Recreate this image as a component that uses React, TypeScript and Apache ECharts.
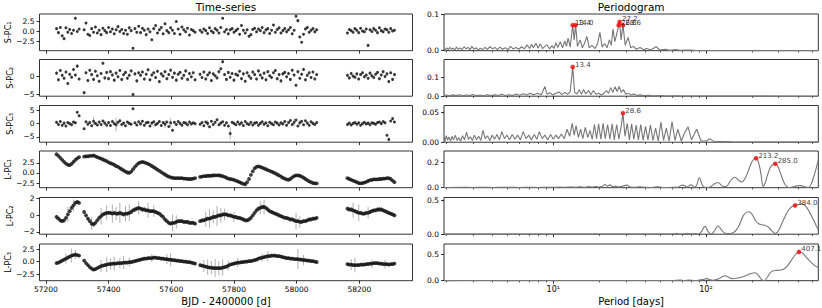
import React, { useEffect, useRef } from "react";
import * as echarts from "echarts";

const FONT = "DejaVu Sans, Verdana, sans-serif";

// ---------------- time-series data ----------------
const times = [
  57234, 57240, 57246, 57252, 57258, 57264, 57270, 57276, 57282, 57288, 57294, 57300, 57306,
  57322, 57328, 57334, 57340, 57346, 57352, 57358, 57364, 57370, 57376, 57382, 57388, 57394,
  57400, 57406, 57412, 57418, 57424, 57430, 57436, 57442, 57448, 57454, 57460, 57466, 57472, 57478, 57484, 57490, 57496,
  57502, 57508, 57514, 57520, 57526, 57532, 57538, 57544, 57550, 57556, 57562, 57568, 57574, 57580, 57586, 57592, 57598,
  57604, 57610, 57616, 57622, 57628, 57634, 57640, 57646, 57652, 57658, 57664, 57670, 57676,
  57692, 57698, 57704, 57710, 57716, 57722, 57728, 57734, 57740, 57746,
  57752, 57758, 57764, 57770, 57776, 57782, 57788, 57794, 57800, 57806,
  57812, 57818, 57824, 57830, 57836, 57842, 57848, 57854, 57860, 57866,
  57872, 57878, 57884, 57890, 57896, 57902, 57908, 57914, 57920, 57926,
  57932, 57938, 57944, 57950, 57956, 57962, 57968, 57974, 57980, 57986,
  57992, 57998, 58004, 58010, 58016, 58022, 58028, 58034, 58040, 58046,
  58052, 58058, 58064,
  58162, 58168, 58174, 58180, 58186, 58192, 58198, 58204, 58210, 58216, 58222, 58228, 58234,
  58240, 58246, 58252, 58258, 58264, 58270, 58276, 58282, 58288, 58294, 58300, 58306, 58312,
];

const sPC1 = [
  0.6, -0.4, 0.9, -1.2, -1.9, 0.8, -0.3, 0.4, -0.6, 0.2, 3.2, -0.1, 0.5,
  0.3, 2.0, -0.8, -1.1, 0.6, -0.3, 1.0, -0.5, 0.2, -0.9, 0.7, 0.1, -0.4,
  0.9, -0.2, 0.5, -0.7, 0.3, 1.1, -0.1, 0.4, -0.6, 0.2, -0.8, 0.8, 0.1, -4.3, 0.6, -0.3, 1.2,
  -0.4, 0.7, 0.2, -0.9, 0.5, -0.2, -2.2, 0.6, 1.4, -0.5, 0.3, 0.9, -0.7, 1.8, 0.1, -0.4, 0.8,
  0.2, -0.6, 2.4, 0.5, -0.8, 1.0, 0.3, -0.2, 0.7, -1.0, 0.4, 0.1, -0.3,
  0.2, -0.3, 0.5, 0.1, -0.6, 0.8, 0.0, -0.4, 0.6, 0.2,
  -0.5, 0.9, 3.2, -0.2, 0.4, -0.7, 0.3, 0.6, -0.3, 0.1,
  0.5, -0.8, 1.4, 0.2, -0.5, 0.3, -1.3, -0.9, 0.4, 0.7,
  -0.2, 0.5, 0.1, 0.9, -0.4, 0.3, 0.6, -0.6, 0.2, 1.5,
  -0.3, 0.4, 0.8, -0.5, 0.1, 0.6, -0.2, 0.3, 0.9, -0.7,
  0.2, 3.7, 2.6, -1.5, -2.8, -0.8, 0.5, 0.9, -0.3, 0.2,
  0.6, -0.2, 0.3,
  -0.5, 0.4, 0.1, -0.3, 0.6, 0.2, -0.4, 0.7, 0.0, -0.2, 0.5, -3.6, 0.3,
  -0.1, 0.6, 0.2, -0.4, 0.8, 0.1, -0.2, 0.5, 0.3, -0.3, 0.6, 0.0, 0.2,
];

const sPC2 = [
  0.8, -1.0, 1.5, 0.2, -0.6, 1.1, -2.0, 0.5, -0.3, 1.8, 0.3, 2.7, -0.8,
  -4.5, 0.9, -1.2, 1.6, 0.4, -0.9, 1.3, 0.1, -1.4, 0.7, 3.5, -0.5, 1.0,
  -0.7, 1.2, 0.3, -1.1, 0.8, -0.2, 1.5, -0.9, 0.4, 1.0, -0.6, 0.2, 1.4, -5.0, 0.6, -1.3, 0.9,
  0.2, 1.1, -0.8, 0.5, 1.7, -1.0, 0.3, 0.9, -0.4, 1.3, -1.5, 0.6, 0.0, 1.2, -0.7, 0.4, 1.6,
  -0.3, 0.8, -1.1, 0.5, 1.0, -0.6, 0.2, 1.4, -0.9, 0.7, -0.2, 0.9, -1.0,
  0.5, -0.4, 1.1, -0.8, 0.3, 0.9, -1.2, 0.6, 0.1, -0.5,
  1.2, 2.0, 3.9, 0.4, -0.9, 1.0, -0.3, 0.7, -1.1, 0.5,
  0.2, 1.3, -0.7, 0.6, -1.4, 0.9, 0.0, -0.6, 1.1, 0.4,
  -0.8, 1.4, 0.3, -0.5, 0.8, -1.0, 1.2, 0.1, -0.4, 0.9,
  1.5, -0.7, 0.4, -1.3, 0.6, 1.0, -0.2, 0.7, -0.9, 1.6,
  0.3, -2.5, 1.2, -0.6, 0.5, 1.8, -1.0, 0.2, 0.9, -0.4,
  1.1, -0.8, 0.4,
  0.2, -0.5, 0.7, 0.0, -0.3, 0.6, -0.8, 0.4, 0.9, -0.2, 0.3, -0.6, 0.8,
  0.1, -0.4, 0.5, 1.0, -0.7, 0.3, 1.2, -0.1, 0.6, -1.5, 0.9, -0.9, 0.4,
];

const sPC3 = [
  0.5, -0.3, 0.8, -0.6, 0.2, -0.9, 0.4, 0.0, -0.4, 0.6, 0.3, 4.3, 3.0,
  -1.9, 0.7, -0.2, 0.4, -0.8, 0.9, 0.1, -0.5, 0.6, -0.3, 1.0, 0.2, -0.6,
  0.4, -0.7, 0.8, 0.0, -0.4, 0.5, 1.1, -0.3, 0.2, -0.8, 0.6, 0.1, -0.2, 5.6, 0.3, -0.5, 0.7,
  -0.1, 0.9, -0.6, 0.3, 0.5, -0.9, 0.2, 0.7, -0.4, 0.1, 0.8, -0.7, 0.4, -0.2, 0.6, -1.1, 0.3,
  -2.5, 0.5, -0.3, 0.8, 0.1, -0.6, 0.4, 0.2, -0.4, 0.6, -0.1, 0.3, 0.0,
  -0.2, 0.4, -0.8, 0.6, 0.1, -1.2, 0.9, -0.3, 0.5, 1.5,
  -0.4, 0.2, 0.7, -0.6, 0.3, -0.9, -3.7, 0.5, 0.1, -0.4,
  0.6, -0.2, 0.3, -0.7, 0.8, 0.0, -0.3, 0.5, -0.5, 0.2,
  0.4, -0.6, 0.1, 0.7, -0.2, 0.3, -0.8, 0.5, 0.0, -0.4,
  0.6, 0.2, -0.5, 0.3, -0.1, 0.8, -0.6, 0.4, 1.2, -0.3,
  0.5, 1.4, -0.9, 0.3, 0.9, -0.4, 1.1, 0.2, -0.6, 0.7,
  0.1, -0.3, 0.4,
  -0.3, 0.2, -0.5, 0.1, 0.4, -0.2, 0.3, -0.6, 0.0, 0.5, -0.1, 0.2, -0.4,
  0.3, 0.1, -0.2, 0.4, 0.6, 0.0, 0.8, 0.3, -4.4, -6.0, 1.0, 1.9, 0.6,
];

const lPC1 = [
  4.6, 4.2, 3.7, 3.2, 2.7, 2.3, 2.0, 1.9, 2.2, 2.7, 3.2, 3.6, 3.9,
  4.0, 4.1, 4.1, 4.2, 4.2, 4.3, 4.1, 3.9, 3.7, 3.5, 3.3, 3.1, 2.9,
  2.6, 2.4, 2.2, 2.0, 1.7, 1.5, 1.2, 0.9, 0.6, 0.3, 0.1, 0.0, 0.3, 0.9, 1.5, 2.0, 2.4,
  2.6, 2.7, 2.6, 2.4, 2.2, 2.0, 1.7, 1.4, 1.1, 0.8, 0.5, 0.2, -0.1, -0.4, -0.7, -0.9, -1.1,
  -1.2, -1.3, -1.3, -1.3, -1.3, -1.3, -1.4, -1.4, -1.5, -1.5, -1.5, -1.4, -1.3,
  -1.0, -0.9, -0.8, -0.8, -0.7, -0.7, -0.7, -0.6, -0.6, -0.6,
  -0.6, -0.7, -0.8, -1.0, -1.2, -1.4, -1.5, -1.6, -1.7, -1.9,
  -2.1, -2.3, -2.5, -2.7, -2.8, -2.3, -1.5, -0.5, 0.4, 1.1,
  1.5, 1.6, 1.5, 1.3, 1.1, 0.9, 0.7, 0.5, 0.3, 0.1,
  -0.1, -0.4, -0.6, -0.9, -1.2, -1.4, -1.6, -1.7, -1.5, -1.1,
  -0.8, -0.6, -0.6, -0.7, -0.9, -1.2, -1.5, -1.8, -2.1, -2.3,
  -2.5, -2.6, -2.6,
  -1.3, -1.5, -1.7, -1.9, -2.1, -2.3, -2.5, -2.6, -2.5, -2.4, -2.2, -2.0, -1.8,
  -1.7, -1.6, -1.6, -1.6, -1.5, -1.5, -1.4, -1.4, -1.3, -1.3, -1.5, -1.9, -2.3,
];

const lPC2 = [
  -0.2, -0.4, -0.6, -0.7, -0.6, -0.3, 0.1, 0.5, 0.9, 1.2, 1.5, 1.6, 1.5,
  0.4, 0.0, -0.4, -0.7, -1.0, -1.1, -0.9, -0.6, -0.3, -0.1, 0.1, 0.2, 0.3,
  0.3, 0.3, 0.2, 0.3, 0.2, 0.2, 0.3, 0.2, 0.1, 0.2, 0.2, 0.3, 0.4, 0.6, 0.7, 0.8, 0.9,
  0.8, 0.7, 0.7, 0.6, 0.6, 0.5, 0.5, 0.5, 0.4, 0.3, 0.2, 0.0, -0.2, -0.5, -0.7, -0.9, -1.0,
  -0.9, -0.9, -0.8, -0.7, -0.7, -0.7, -0.8, -0.8, -0.8, -0.9, -0.9, -0.9, -1.0,
  -0.7, -0.6, -0.6, -0.5, -0.4, -0.4, -0.3, -0.2, -0.2, -0.1,
  0.0, 0.0, 0.1, 0.1, 0.1, 0.0, 0.0, -0.1, -0.2, -0.2,
  -0.3, -0.3, -0.4, -0.5, -0.6, -0.6, -0.5, -0.3, 0.0, 0.3,
  0.6, 0.8, 0.9, 1.0, 1.0, 0.9, 0.7, 0.5, 0.4, 0.3,
  0.2, 0.1, 0.0, -0.1, -0.2, -0.3, -0.3, -0.4, -0.5, -0.5,
  -0.6, -0.7, -0.7, -0.8, -0.8, -0.7, -0.7, -0.6, -0.5, -0.5,
  -0.4, -0.4, -0.3,
  0.8, 0.7, 0.7, 0.6, 0.5, 0.4, 0.3, 0.3, 0.2, 0.2, 0.3, 0.3, 0.4,
  0.5, 0.6, 0.6, 0.7, 0.7, 0.7, 0.6, 0.5, 0.4, 0.3, 0.2, 0.1, 0.0,
];

const lPC3 = [
  -0.3, -0.2, 0.0, 0.2, 0.4, 0.6, 0.8, 1.0, 1.2, 1.3, 1.4, 1.3, 1.2,
  0.2, -0.3, -0.7, -1.1, -1.4, -1.6, -1.5, -1.3, -1.1, -0.9, -0.8, -0.7, -0.6,
  -0.5, -0.5, -0.4, -0.4, -0.4, -0.3, -0.3, -0.3, -0.2, -0.2, -0.2, -0.1, -0.1, 0.0, 0.1, 0.2, 0.3,
  0.4, 0.5, 0.6, 0.6, 0.7, 0.7, 0.7, 0.8, 0.8, 0.7, 0.7, 0.6, 0.6, 0.5, 0.5, 0.4, 0.4,
  0.3, 0.3, 0.2, 0.2, 0.1, 0.1, 0.0, 0.0, -0.1, -0.1, -0.2, -0.3, -0.4,
  -0.7, -0.8, -0.9, -1.0, -1.1, -1.2, -1.2, -1.3, -1.3, -1.3,
  -1.3, -1.3, -1.2, -1.1, -1.0, -0.8, -0.6, -0.5, -0.4, -0.3,
  -0.2, -0.2, -0.1, -0.1, 0.0, 0.0, 0.1, 0.1, 0.2, 0.3,
  0.4, 0.6, 0.7, 0.8, 0.9, 1.0, 1.1, 1.1, 1.2, 1.2,
  1.2, 1.1, 1.1, 1.0, 0.9, 0.8, 0.7, 0.7, 0.6, 0.6,
  0.5, 0.5, 0.5, 0.4, 0.4, 0.3, 0.3, 0.2, 0.2, 0.1,
  0.1, 0.0, -0.1,
  -0.5, -0.6, -0.6, -0.7, -0.7, -0.7, -0.7, -0.6, -0.6, -0.6, -0.5, -0.5, -0.4,
  -0.4, -0.3, -0.3, -0.3, -0.4, -0.4, -0.5, -0.5, -0.5, -0.6, -0.5, -0.5, -0.4,
];

// typical error size per panel, and points with larger errors [time, error]
const baseErrors = [0.3, 0.45, 0.45, 0.1, 0.25, 0.35];
const sPC1BigErr: number[][] = [];
const sPC2BigErr: number[][] = [];
const sPC3BigErr = [[57352, 1.5], [57424, 2.5], [57580, 1.5], [57598, 1.8], [57716, 1.2], [57788, 2.2], [57992, 1.2], [58010, 1.0], [58294, 1.0]];
const lPC1BigErr = [[57288, 0.3], [57550, 0.5], [57710, 0.5], [57734, 0.6], [57752, 0.5]];
const lPC2BigErr = [
  [57270, 0.9], [57288, 0.7], [57346, 0.8], [57376, 1.0], [57394, 0.9], [57412, 1.1], [57424, 0.8], [57436, 1.2],
  [57454, 0.9], [57466, 1.0], [57496, 0.8], [57526, 0.9], [57544, 0.7], [57604, 1.0], [57616, 0.8], [57710, 0.9],
  [57722, 1.1], [57734, 0.8], [57746, 1.2], [57758, 0.9], [57770, 0.7], [57800, 0.6], [57884, 0.8], [57896, 0.9],
  [57998, 1.0], [58010, 0.7], [58180, 0.9], [58198, 1.0], [58228, 0.7],
];
const lPC3BigErr = [
  [57264, 1.0], [57282, 1.4], [57294, 0.9], [57376, 1.2], [57394, 1.5], [57406, 1.1], [57418, 1.4], [57436, 1.0],
  [57448, 1.3], [57466, 0.9], [57538, 0.8], [57586, 1.0], [57598, 1.3], [57704, 1.2], [57716, 1.5], [57728, 1.3],
  [57740, 1.8], [57752, 1.4], [57764, 1.6], [57782, 1.0], [57812, 0.9], [57890, 0.8], [57908, 1.0], [58004, 2.0],
  [58022, 1.0], [58174, 1.1], [58186, 1.4], [58240, 0.8], [58282, 0.9],
];

const timeTicks = [57200, 57400, 57600, 57800, 58000, 58200];
const leftNames = ["S-PC₁", "S-PC₂", "S-PC₃", "L-PC₁", "L-PC₂", "L-PC₃"];
const leftTicks = [[-2.5, 0, 2.5], [-5, 0], [-5, 0, 5], [-2.5, 0, 2.5], [-2, 0, 2], [-2.5, 0, 2.5]];
const leftTickDecimals = [1, 0, 0, 1, 0, 1];
const leftRanges = [[-4.92, 4.26], [-5.46, 4.5], [-7.0, 6.85], [-3.65, 5.4], [-2.27, 2.14], [-3.81, 3.5]];

// ---------------- periodogram data [period, power] ----------------
const perS1 = [
  [1.92, 0.006], [1.96, 0.002], [2.0, 0.008], [2.05, 0.003], [2.1, 0.009], [2.15, 0.004], [2.2, 0.007], [2.26, 0.002],
  [2.32, 0.01], [2.38, 0.004], [2.45, 0.008], [2.52, 0.003], [2.6, 0.011], [2.68, 0.005], [2.76, 0.009], [2.85, 0.003],
  [2.93, 0.012], [3.02, 0.004], [3.12, 0.008], [3.22, 0.002], [3.33, 0.007], [3.44, 0.003], [3.56, 0.009], [3.7, 0.004],
  [3.85, 0.011], [4.0, 0.005], [4.15, 0.009], [4.3, 0.003], [4.47, 0.01], [4.65, 0.004], [4.85, 0.008], [5.05, 0.003],
  [5.25, 0.012], [5.45, 0.005], [5.7, 0.009], [5.95, 0.004], [6.2, 0.011], [6.45, 0.005], [6.73, 0.016], [7.0, 0.006],
  [7.2, 0.018], [7.4, 0.008], [7.7, 0.021], [7.95, 0.007], [8.2, 0.019], [8.5, 0.006], [8.8, 0.012], [9.1, 0.016],
  [9.45, 0.005], [9.8, 0.014], [10.1, 0.006], [10.4, 0.022], [10.7, 0.009], [11.1, 0.025], [11.5, 0.008], [11.9, 0.027],
  [12.2, 0.012], [12.5, 0.035], [12.9, 0.01], [13.4, 0.071], [13.7, 0.03], [14.0, 0.071], [14.4, 0.012], [15.0, 0.03],
  [15.5, 0.008], [16.0, 0.02], [16.6, 0.04], [17.2, 0.008], [17.9, 0.015], [18.8, 0.006], [19.5, 0.02], [20.2, 0.051],
  [20.9, 0.01], [21.7, 0.02], [22.5, 0.008], [23.3, 0.03], [24.0, 0.015], [24.6, 0.06], [25.3, 0.025], [26.0, 0.045],
  [26.8, 0.071], [27.2, 0.08], [27.8, 0.03], [28.6, 0.071], [29.6, 0.015], [30.9, 0.037], [32.2, 0.008], [33.5, 0.012],
  [35, 0.004], [37, 0.009], [39, 0.003], [41, 0.006], [43.5, 0.002], [47.1, 0.011], [50, 0.002], [54, 0.004],
  [58, 0.001], [63, 0.003], [68, 0.001], [75, 0.002], [85, 0.0008], [100, 0.0005], [130, 0.0003], [200, 0.0002],
  [350, 0.0001], [545, 0.0001],
];
const perS2 = [
  [1.92, 0.003], [2.0, 0.006], [2.1, 0.002], [2.2, 0.007], [2.3, 0.003], [2.42, 0.008], [2.55, 0.002], [2.68, 0.006],
  [2.82, 0.003], [2.97, 0.009], [3.12, 0.003], [3.3, 0.006], [3.48, 0.002], [3.68, 0.008], [3.9, 0.003], [4.12, 0.007],
  [4.35, 0.004], [4.6, 0.01], [4.85, 0.004], [5.12, 0.008], [5.4, 0.003], [5.7, 0.011], [6.0, 0.005], [6.35, 0.013],
  [6.7, 0.006], [7.05, 0.015], [7.45, 0.007], [7.9, 0.016], [8.35, 0.008], [8.8, 0.051], [9.1, 0.01], [9.5, 0.018],
  [9.9, 0.006], [10.4, 0.015], [10.9, 0.022], [11.4, 0.008], [11.9, 0.02], [12.4, 0.01], [12.9, 0.024], [13.4, 0.153],
  [13.8, 0.02], [14.3, 0.012], [14.8, 0.034], [15.3, 0.01], [15.8, 0.036], [16.3, 0.012], [17.0, 0.03], [17.6, 0.008],
  [18.3, 0.03], [19.0, 0.01], [19.8, 0.016], [20.6, 0.006], [21.4, 0.014], [22.3, 0.03], [23.0, 0.015], [23.8, 0.045],
  [24.6, 0.02], [25.4, 0.05], [26.2, 0.025], [27.0, 0.051], [27.9, 0.02], [28.8, 0.035], [29.8, 0.01], [31.0, 0.015],
  [32.3, 0.006], [33.7, 0.012], [35.3, 0.004], [37, 0.007], [39, 0.003], [42, 0.005], [45, 0.002], [50, 0.004],
  [55, 0.001], [62, 0.002], [70, 0.001], [85, 0.0005], [120, 0.0003], [250, 0.0002], [545, 0.0001],
];
const perS3 = [
  [1.92, 0.008], [1.95, 0.002], [1.99, 0.011], [2.03, 0.003], [2.07, 0.009], [2.12, 0.002], [2.17, 0.01], [2.22, 0.004],
  [2.28, 0.012], [2.34, 0.003], [2.4, 0.008], [2.47, 0.002], [2.54, 0.011], [2.62, 0.004], [2.7, 0.017], [2.78, 0.005],
  [2.86, 0.009], [2.95, 0.003], [3.04, 0.012], [3.14, 0.004], [3.24, 0.01], [3.35, 0.003], [3.46, 0.02], [3.58, 0.006],
  [3.7, 0.011], [3.84, 0.003], [3.98, 0.012], [4.12, 0.005], [4.27, 0.013], [4.43, 0.004], [4.6, 0.018], [4.78, 0.006],
  [4.97, 0.012], [5.17, 0.004], [5.38, 0.013], [5.6, 0.005], [5.84, 0.012], [6.08, 0.004], [6.35, 0.018], [6.62, 0.006],
  [6.9, 0.012], [7.2, 0.004], [7.5, 0.013], [7.8, 0.005], [8.1, 0.018], [8.45, 0.006], [8.8, 0.012], [9.2, 0.004],
  [9.6, 0.013], [10.0, 0.005], [10.4, 0.012], [10.8, 0.006], [11.3, 0.014], [11.8, 0.006], [12.3, 0.022], [12.8, 0.01],
  [13.3, 0.032], [13.7, 0.012], [14.1, 0.028], [14.6, 0.008], [15.1, 0.022], [15.6, 0.006], [16.2, 0.025], [16.8, 0.008],
  [17.4, 0.02], [18.0, 0.005], [18.6, 0.03], [19.2, 0.006], [19.8, 0.031], [20.5, 0.005], [21.2, 0.032], [21.9, 0.006],
  [22.7, 0.03], [23.5, 0.005], [24.3, 0.031], [25.1, 0.004], [26.0, 0.03], [26.9, 0.005], [27.8, 0.026], [28.6, 0.049],
  [29.5, 0.01], [30.5, 0.032], [31.5, 0.004], [32.6, 0.031], [33.7, 0.005], [34.9, 0.029], [36.1, 0.004], [37.4, 0.03],
  [38.8, 0.003], [40.2, 0.027], [41.7, 0.004], [43.3, 0.029], [45, 0.003], [46.8, 0.024], [48.7, 0.002], [50.7, 0.034],
  [52.8, 0.003], [55, 0.024], [57.4, 0.002], [60, 0.035], [62.7, 0.003], [65.5, 0.022], [69, 0.002], [72.5, 0.016],
  [76.4, 0.026], [80.5, 0.004], [87, 0.022], [93, 0.002], [100, 0.002], [106, 0.006], [113, 0.001], [125, 0.001],
  [150, 0.0005], [200, 0.0003], [545, 0.0001],
];
const perL1 = [
  [1.92, 0.002], [2.5, 0.004], [3, 0.002], [3.5, 0.004], [4, 0.002], [5, 0.004], [6, 0.002], [7, 0.004], [8, 0.002],
  [9, 0.004], [10, 0.003], [11, 0.005], [12, 0.003], [13, 0.006], [14, 0.004], [15, 0.007], [16, 0.004], [17, 0.008],
  [18, 0.005], [19, 0.009], [20, 0.006], [21, 0.012], [21.8, 0.025], [22.6, 0.012], [23.5, 0.022], [24.5, 0.008],
  [25.5, 0.012], [26.5, 0.006], [28, 0.01], [30.3, 0.02], [32, 0.005], [34, 0.003], [37, 0.007], [40, 0.003],
  [44, 0.002], [48.4, 0.007], [52, 0.002], [56, 0.001], [60, 0.003], [65, 0.004], [70.6, 0.02], [75, 0.006],
  [80, 0.022], [84, 0.006], [87, 0.02], [90.5, 0.08], [94, 0.03], [98, 0.003], [103, 0.002], [108, 0.01], [114, 0.03],
  [120, 0.04], [126, 0.02], [131, 0.008], [137, 0.012], [146, 0.06], [155, 0.081], [163, 0.06], [172, 0.045],
  [182, 0.08], [192, 0.15], [202, 0.21], [213.2, 0.229], [222, 0.19], [230, 0.1], [237, 0.01], [245, 0.04],
  [255, 0.11], [268, 0.17], [285, 0.187], [300, 0.15], [315, 0.08], [330, 0.025], [348, 0.002], [370, 0.006],
  [395, 0.014], [419, 0.016], [445, 0.008], [470, 0.002], [490, 0.03], [510, 0.09], [530, 0.16], [545, 0.215],
];
const perL2 = [
  [1.92, 0.001], [3, 0.003], [4, 0.001], [5, 0.002], [6, 0.001], [8, 0.003], [10, 0.002], [12, 0.003], [15, 0.002],
  [18, 0.004], [20, 0.002], [25, 0.003], [30, 0.002], [35, 0.004], [40, 0.003], [45, 0.002], [50, 0.003], [55, 0.002],
  [60, 0.004], [64.5, 0.012], [68, 0.003], [72, 0.006], [75.3, 0.015], [80, 0.004], [85, 0.01], [89, 0.002],
  [93, 0.03], [98.5, 0.117], [104, 0.03], [108, 0.002], [113, 0.04], [120, 0.127], [127, 0.06], [134, 0.015],
  [144, 0.01], [155, 0.04], [165, 0.13], [175, 0.27], [185, 0.33], [192, 0.336], [200, 0.3], [212, 0.2],
  [222, 0.155], [232, 0.142], [245, 0.13], [258, 0.1], [270, 0.05], [284, 0.01], [300, 0.06], [320, 0.2],
  [345, 0.35], [365, 0.41], [384, 0.43], [420, 0.45], [450, 0.42], [480, 0.32], [510, 0.2], [530, 0.12], [545, 0.069],
];
const perL3 = [
  [1.92, 0.001], [3, 0.003], [5, 0.002], [8, 0.004], [10, 0.002], [12, 0.004], [15, 0.003], [20, 0.005], [25, 0.003],
  [30, 0.004], [40, 0.003], [50, 0.004], [60, 0.003], [67.5, 0.01], [72, 0.004], [78, 0.012], [84, 0.004], [90, 0.01],
  [95, 0.02], [101, 0.04], [107, 0.015], [112, 0.008], [120, 0.03], [127, 0.07], [133, 0.094], [140, 0.07],
  [148, 0.04], [157, 0.045], [167, 0.06], [180, 0.09], [195, 0.13], [210, 0.15], [222, 0.09], [232, 0.02],
  [241, 0.002], [252, 0.06], [264, 0.15], [276, 0.187], [290, 0.195], [305, 0.2], [320, 0.21], [340, 0.27],
  [360, 0.37], [385, 0.49], [407.1, 0.543], [425, 0.53], [450, 0.46], [480, 0.37], [510, 0.3], [545, 0.243],
];

const peaksS1 = [[13.4, 0.071], [14.0, 0.071], [26.8, 0.071], [27.2, 0.08], [28.6, 0.071]];
const peaksS2 = [[13.4, 0.153]];
const peaksS3 = [[28.6, 0.049]];
const peaksL1 = [[213.2, 0.229], [285.0, 0.187]];
const peaksL2 = [[384.0, 0.43]];
const peaksL3 = [[407.1, 0.543]];

const logTicks = [10, 100];
const logTickLabels = ["10¹", "10²"];
const logMinorTicks = [2, 3, 4, 5, 6, 7, 8, 9, 20, 30, 40, 50, 60, 70, 80, 90, 200, 300, 400, 500];
const rightTicks = [[0, 0.1], [0, 0.1], [0, 0.05], [0, 0.2], [0, 0.5], [0, 0.5]];
const rightTickDecimals = [1, 1, 2, 1, 1, 1];
const rightMax = [0.102, 0.193, 0.0623, 0.286, 0.548, 0.693];

// ---------------- option ----------------
const TOPS = [14, 59.5, 105.5, 151, 197.5, 244];
const GH = 36.7;
const LX = 39.5, LW = 373;
const RX = 444, RW = 374.3;
const PMIN = 1.922, PMAX = 545;
const TMIN = 57179.6, TMAX = 58369.6;

const fmt = (v: number, d: number) => (v < 0 ? "\u2212" : "") + Math.abs(v).toFixed(d);

function buildOption() {
  const leftVals = [sPC1, sPC2, sPC3, lPC1, lPC2, lPC3];
  const bigErrs = [sPC1BigErr, sPC2BigErr, sPC3BigErr, lPC1BigErr, lPC2BigErr, lPC3BigErr];
  const pers = [perS1, perS2, perS3, perL1, perL2, perL3];
  const peaks = [peaksS1, peaksS2, peaksS3, peaksL1, peaksL2, peaksL3];

  const tickStyle = { color: "#000", width: 0.8 };
  const labelStyle = { color: "#000", fontSize: 7.5, fontFamily: FONT };
  const noLine = { show: false, onZero: false };

  const grid: any[] = [];
  const xAxis: any[] = [];
  const yAxis: any[] = [];
  const series: any[] = [];

  for (let i = 0; i < 6; i++) {
    grid.push({ left: LX, top: TOPS[i], width: LW, height: GH, show: true, borderColor: "#000", borderWidth: 0.8 });
  }
  for (let i = 0; i < 6; i++) {
    grid.push({ left: RX, top: TOPS[i], width: RW, height: GH, show: true, borderColor: "#000", borderWidth: 0.8 });
  }

  // left axes
  for (let i = 0; i < 6; i++) {
    xAxis.push({
      gridIndex: i, type: "value", min: TMIN, max: TMAX, position: "bottom",
      axisLine: noLine, splitLine: { show: false },
      axisTick: { show: true, length: 3, lineStyle: tickStyle, customValues: timeTicks },
      axisLabel: { show: i === 5, customValues: timeTicks, margin: 5, ...labelStyle, formatter: (v: number) => String(v) },
      name: i === 5 ? "BJD - 2400000 [d]" : "", nameLocation: "middle", nameGap: 16,
      nameTextStyle: { color: "#000", fontSize: 10, fontFamily: FONT },
    });
    const d = leftTickDecimals[i];
    yAxis.push({
      gridIndex: i, type: "value", min: leftRanges[i][0], max: leftRanges[i][1], position: "left",
      axisLine: noLine, splitLine: { show: false },
      axisTick: { show: true, length: 3, lineStyle: tickStyle, customValues: leftTicks[i] },
      axisLabel: { customValues: leftTicks[i], margin: 5, ...labelStyle, formatter: (v: number) => fmt(v, d) },
      name: leftNames[i], nameLocation: "middle", nameGap: 25,
      nameTextStyle: { color: "#000", fontSize: 8, fontFamily: FONT },
    });
  }
  // right axes
  for (let i = 0; i < 6; i++) {
    xAxis.push({
      gridIndex: 6 + i, type: "log", logBase: 10, min: PMIN, max: PMAX, position: "bottom",
      axisLine: noLine, splitLine: { show: false }, minorTick: { show: false },
      axisTick: { show: true, length: 3, lineStyle: tickStyle, customValues: logTicks },
      axisLabel: {
        show: i === 5, customValues: logTicks, margin: 5, ...labelStyle, fontSize: 8,
        formatter: (v: number) => logTickLabels[logTicks.findIndex((t) => Math.abs(t - v) / t < 1e-6)] ?? "",
      },
      name: i === 5 ? "Period [days]" : "", nameLocation: "middle", nameGap: 16,
      nameTextStyle: { color: "#000", fontSize: 10, fontFamily: FONT },
    });
    const d = rightTickDecimals[i];
    yAxis.push({
      gridIndex: 6 + i, type: "value", min: 0, max: rightMax[i], position: "left",
      axisLine: noLine, splitLine: { show: false },
      axisTick: { show: true, length: 3, lineStyle: tickStyle, customValues: rightTicks[i] },
      axisLabel: { customValues: rightTicks[i], margin: 5, ...labelStyle, formatter: (v: number) => fmt(v, d) },
    });
  }
  // minor tick axes for log panels
  for (let i = 0; i < 6; i++) {
    xAxis.push({
      gridIndex: 6 + i, type: "log", logBase: 10, min: PMIN, max: PMAX, position: "bottom",
      axisLine: noLine, splitLine: { show: false },
      axisTick: { show: true, length: 1.8, lineStyle: { color: "#000", width: 0.6 }, customValues: logMinorTicks },
      axisLabel: { show: false },
    });
  }

  // left series
  for (let i = 0; i < 6; i++) {
    const vals = leftVals[i];
    const big = new Map<number, number>(bigErrs[i].map((e) => [e[0], e[1]]));
    const n = Math.min(times.length, vals.length);
    const pts: number[][] = [];
    const errs: number[][] = [];
    for (let j = 0; j < n; j++) {
      pts.push([times[j], vals[j]]);
      errs.push([times[j], vals[j], big.get(times[j]) ?? baseErrors[i]]);
    }
    series.push({
      type: "custom", xAxisIndex: i, yAxisIndex: i, silent: true, clip: true,
      encode: { x: 0, y: 1 },
      data: errs,
      renderItem: (_p: any, api: any) => {
        const x = api.value(0), y = api.value(1), e = api.value(2);
        const a = api.coord([x, y - e]);
        const b = api.coord([x, y + e]);
        return { type: "line", shape: { x1: a[0], y1: a[1], x2: b[0], y2: b[1] }, style: { stroke: "#9a9a9a", lineWidth: 0.8 } };
      },
      z: 1,
    });
    series.push({
      type: "scatter", xAxisIndex: i, yAxisIndex: i, silent: true, data: pts,
      symbol: "circle", symbolSize: i < 3 ? 3 : 3.8, itemStyle: { color: "#111" }, z: 2,
    });
  }
  // right series
  for (let i = 0; i < 6; i++) {
    series.push({
      type: "line", xAxisIndex: 6 + i, yAxisIndex: 6 + i, silent: true, data: pers[i],
      showSymbol: false, symbol: "none", smooth: i >= 3 ? 0.35 : false,
      lineStyle: { color: "#777777", width: 1.1 }, z: 2,
    });
    series.push({
      type: "scatter", xAxisIndex: 6 + i, yAxisIndex: 6 + i, silent: true, data: peaks[i],
      symbol: "circle", symbolSize: 4.6, itemStyle: { color: "#ff0000" }, z: 3,
      label: {
        show: true, position: "right", distance: 0, offset: [0, -2.5],
        formatter: (p: any) => Number(p.value[0]).toFixed(1),
        color: "#000", fontSize: 7, fontFamily: FONT,
      },
    });
  }

  return {
    animation: false,
    backgroundColor: "#fff",
    textStyle: { fontFamily: FONT },
    grid, xAxis, yAxis, series,
    graphic: [
      { type: "text", x: LX + LW / 2, y: 7, style: { text: "Time-series", fill: "#000", fontSize: 10.5, fontWeight: "normal", fontFamily: FONT, align: "center", verticalAlign: "middle" } },
      { type: "text", x: RX + RW / 2, y: 7, style: { text: "Periodogram", fill: "#000", fontSize: 10.5, fontWeight: "normal", fontFamily: FONT, align: "center", verticalAlign: "middle" } },
    ],
  };
}

export default function App() {
  const ref = useRef<HTMLDivElement>(null);
  useEffect(() => {
    if (!ref.current) return;
    const chart = echarts.init(ref.current, null, { renderer: "svg" });
    chart.setOption(buildOption() as any);
    return () => chart.dispose();
  }, []);
  return <div ref={ref} style={{ position: "absolute", left: 0, top: 0, width: 822, height: 308, background: "#fff" }} />;
}
